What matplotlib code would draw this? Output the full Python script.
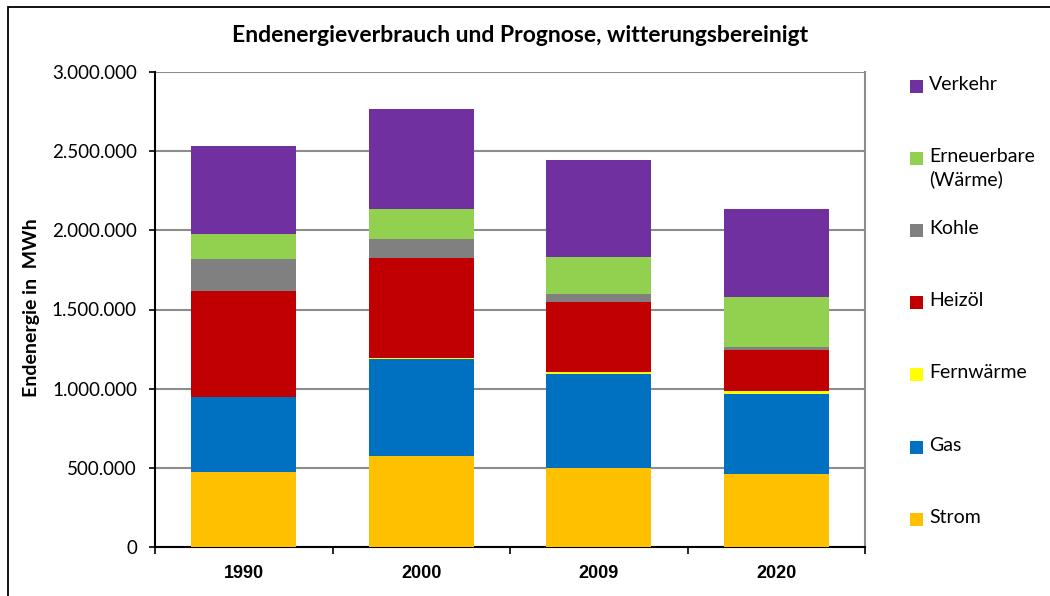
import matplotlib
matplotlib.use("Agg")
import matplotlib.pyplot as plt
from matplotlib.patches import Rectangle
from matplotlib.ticker import FuncFormatter, FixedLocator
import numpy as np

years = ["1990", "2000", "2009", "2020"]
series_names = ["Strom", "Gas", "Fernwärme", "Heizöl", "Kohle", "Erneuerbare\n(Wärme)", "Verkehr"]
strom = [472000, 577000, 499000, 461000]
gas = [473000, 612000, 592000, 503000]
fernwaerme = [0, 2000, 12000, 21000]
heizoel = [670000, 636000, 446000, 261000]
kohle = [206000, 120000, 47000, 19000]
erneuerbare = [154000, 186000, 236000, 314000]
verkehr = [558000, 633000, 610000, 554000]
colors = ["#FFC000", "#0070C0", "#FFFF00", "#C00000", "#808080", "#92D050", "#7030A0"]
yticks = [0, 500000, 1000000, 1500000, 2000000, 2500000, 3000000]

series = [strom, gas, fernwaerme, heizoel, kohle, erneuerbare, verkehr]

W, H = 1050, 596
fig = plt.figure(figsize=(W / 100, H / 100), dpi=100)
ax = fig.add_axes([155 / W, 1 - 547 / H, (865 - 155) / W, (547 - 72) / H])

x = np.arange(len(years))
bottom = np.zeros(len(years))
for vals, c in zip(series, colors):
    ax.bar(x, vals, width=0.59, bottom=bottom, color=c, edgecolor="none", zorder=3)
    bottom += np.array(vals)

ax.set_xlim(-0.5, len(years) - 0.5)
ax.set_ylim(0, 3000000)
ax.set_yticks(yticks)
ax.yaxis.set_major_formatter(FuncFormatter(lambda v, p: f"{int(v):,}".replace(",", ".")))
ax.grid(axis="y", color="#8c8c8c", linewidth=1.5, zorder=0)
ax.set_xticks(x)
ax.set_xticklabels(years, fontfamily="Liberation Sans", fontweight="bold", fontsize=13)
ax.xaxis.set_minor_locator(FixedLocator(np.arange(-0.5, len(years), 1.0)))
ax.tick_params(axis="x", which="major", length=0, pad=13)
ax.tick_params(axis="x", which="minor", length=5, width=1.2, color="black", direction="out")
ax.tick_params(axis="y", length=4, width=1.2, direction="out", pad=9, labelsize=13.5)
for lab in ax.get_yticklabels():
    lab.set_fontfamily("Lato")

for s in ["left", "bottom"]:
    ax.spines[s].set_color("black")
    ax.spines[s].set_linewidth(1.5)
ax.spines["top"].set_visible(False)
ax.spines["right"].set_color("#8c8c8c")
ax.spines["right"].set_linewidth(1.5)

fig.text(32 / W, 1 - 308 / H, "Endenergie in  MWh", rotation=90, ha="center", va="center",
         fontfamily="Lato", fontweight="bold", fontsize=14)

fig.text(520 / W, 1 - 36 / H, "Endenergieverbrauch und Prognose, witterungsbereinigt",
         ha="center", va="center", fontfamily="Lato", fontweight="bold", fontsize=16.5)

# legend (top to bottom, reverse stacking order)
legend_y = [86, 158, 230, 302, 374, 447, 519]
for i, (name, c) in enumerate(zip(series_names[::-1], colors[::-1])):
    yc = legend_y[i]
    fig.patches.append(Rectangle((910 / W, 1 - (yc + 7) / H), 13 / W, 13 / H,
                                 transform=fig.transFigure, facecolor=c, edgecolor="none"))
    fig.text(929 / W, 1 - (yc - 10) / H, name, ha="left", va="top", fontfamily="Lato",
             fontsize=14, linespacing=1.35, color="black")

# chart border
fig.patches.append(Rectangle((8 / W, -0.1), 1.2, 1.1 - 7 / H, transform=fig.transFigure,
                             facecolor="none", edgecolor="black", linewidth=1.3))

fig.savefig("out.png", dpi=100)
